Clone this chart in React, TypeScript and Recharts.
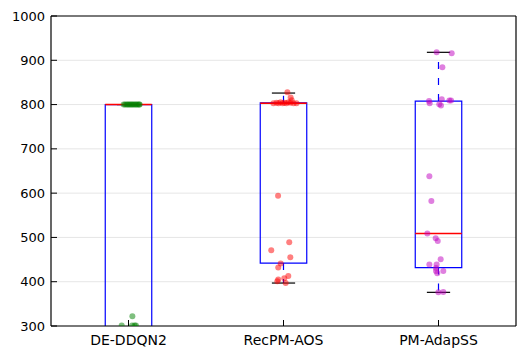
import {
  ComposedChart,
  Scatter,
  XAxis,
  YAxis,
  CartesianGrid,
  ReferenceArea,
  ReferenceLine,
} from "recharts";

const methods = ["DE-DDQN2", "RecPM-AOS", "PM-AdapSS"];
const xTicks = [1, 2, 3];
const yTicks = [300, 400, 500, 600, 700, 800, 900, 1000];

// box statistics per method (DE-DDQN2 lower part lies below the axis)
const whiskerLow = [250, 397, 376];
const quartile1 = [250, 442, 432];
const medians = [800, 803, 509];
const quartile3 = [800, 804, 808];
const whiskerHigh = [800, 826, 918];

// jittered runs: horizontal offset from the box centre, and value
const ddqnOffsets = [-0.031, -0.022, -0.012, -0.004, 0.004, 0.012, 0.02, 0.028, 0.036, 0.044, 0.052, 0.06, 0.068, 0.072, 0.025, -0.044, 0.023, 0.039, 0.048];
const ddqnValues = [800, 800, 800, 800, 800, 800, 800, 800, 800, 800, 800, 800, 800, 800, 322, 301, 301, 301, 301];

const recpmOffsets = [0.025, 0.046, 0.053, -0.065, -0.045, -0.032, -0.019, -0.006, 0.006, 0.019, 0.032, 0.045, 0.065, 0.084, -0.035, 0.037, -0.079, 0.044, -0.018, -0.034, 0.031, 0.005, -0.034, -0.04, 0.014];
const recpmValues = [828, 816, 810, 803, 804, 803, 805, 803, 804, 803, 805, 804, 803, 803, 594, 489, 471, 455, 441, 432, 413, 408, 405, 401, 397];

const adapssOffsets = [-0.012, 0.085, 0.025, -0.061, -0.057, 0.021, 0.005, 0.016, 0.07, 0.081, -0.059, -0.046, -0.072, -0.018, -0.005, 0.014, -0.059, -0.012, -0.016, -0.016, 0.031, -0.008, -0.001, 0.031];
const adapssValues = [918, 916, 884, 808, 803, 812, 801, 798, 809, 809, 638, 582, 509, 498, 492, 451, 439, 439, 431, 424, 424, 419, 376, 377];

const pointColors = ["#008000", "#ff0000", "#bf00bf"];

const toPoints = (pos: number, offsets: number[], values: number[]) =>
  values.map((v, i) => ({ x: pos + offsets[i], y: v }));

const groups = [
  toPoints(1, ddqnOffsets, ddqnValues),
  toPoints(2, recpmOffsets, recpmValues),
  toPoints(3, adapssOffsets, adapssValues),
];

const BOX_HALF = 0.15;
const CAP_HALF = 0.075;
const yFont = { fill: "#000", fontSize: 13, fontFamily: "DejaVu Sans" };
const xFont = { fill: "#000", fontSize: 14, fontFamily: "DejaVu Sans" };
const spine = { stroke: "#000", strokeWidth: 1.2 };

export default function App() {
  return (
    <div style={{ position: "absolute", left: 0, top: 0 }}>
      <ComposedChart width={526} height={356} margin={{ top: 0, right: 0, bottom: 0, left: 0 }}>
        <CartesianGrid xAxisId="b" yAxisId="l" vertical={false} stroke="#e6e6e6" />
        <XAxis
          xAxisId="b"
          type="number"
          dataKey="x"
          domain={[0.5, 3.5]}
          ticks={xTicks}
          tickFormatter={(v: number) => methods[v - 1] ?? ""}
          allowDataOverflow
          height={30}
          tickSize={-6}
          tickMargin={15}
          axisLine={spine}
          tickLine={{ stroke: "#000" }}
          tick={xFont}
        />
        <XAxis
          xAxisId="t"
          orientation="top"
          type="number"
          domain={[0.5, 3.5]}
          ticks={xTicks}
          allowDataOverflow
          height={16}
          tickSize={-6}
          axisLine={spine}
          tickLine={{ stroke: "#000" }}
          tick={false}
        />
        <YAxis
          yAxisId="l"
          type="number"
          dataKey="y"
          domain={[300, 1000]}
          ticks={yTicks}
          allowDataOverflow
          width={51}
          tickSize={-6}
          tickMargin={12}
          axisLine={spine}
          tickLine={{ stroke: "#000" }}
          tick={yFont}
        />
        <YAxis
          yAxisId="r"
          orientation="right"
          type="number"
          domain={[300, 1000]}
          ticks={yTicks}
          allowDataOverflow
          width={10}
          tickSize={-6}
          axisLine={spine}
          tickLine={{ stroke: "#000" }}
          tick={false}
        />

        {methods.map((m, i) => {
          const pos = i + 1;
          return [
            <ReferenceArea
              key={`box-${m}`}
              xAxisId="b"
              yAxisId="l"
              x1={pos - BOX_HALF}
              x2={pos + BOX_HALF}
              y1={quartile1[i]}
              y2={quartile3[i]}
              fill="none"
              fillOpacity={0}
              stroke="#0000ff"
              strokeWidth={1.2}
              strokeOpacity={1}
              ifOverflow="hidden"
            />,
            <ReferenceLine
              key={`wl-${m}`}
              xAxisId="b"
              yAxisId="l"
              segment={[{ x: pos, y: quartile1[i] }, { x: pos, y: whiskerLow[i] }]}
              stroke="#0000ff"
              strokeWidth={1.2}
              strokeDasharray="7 9"
              ifOverflow="hidden"
            />,
            <ReferenceLine
              key={`wh-${m}`}
              xAxisId="b"
              yAxisId="l"
              segment={[{ x: pos, y: quartile3[i] }, { x: pos, y: whiskerHigh[i] }]}
              stroke="#0000ff"
              strokeWidth={1.2}
              strokeDasharray="7 9"
              ifOverflow="hidden"
            />,
            <ReferenceLine
              key={`cl-${m}`}
              xAxisId="b"
              yAxisId="l"
              segment={[{ x: pos - CAP_HALF, y: whiskerLow[i] }, { x: pos + CAP_HALF, y: whiskerLow[i] }]}
              stroke="#000"
              strokeWidth={1.2}
              ifOverflow="hidden"
            />,
            <ReferenceLine
              key={`ch-${m}`}
              xAxisId="b"
              yAxisId="l"
              segment={[{ x: pos - CAP_HALF, y: whiskerHigh[i] }, { x: pos + CAP_HALF, y: whiskerHigh[i] }]}
              stroke="#000"
              strokeWidth={1.2}
              ifOverflow="hidden"
            />,
            <ReferenceLine
              key={`med-${m}`}
              xAxisId="b"
              yAxisId="l"
              segment={[{ x: pos - BOX_HALF, y: medians[i] }, { x: pos + BOX_HALF, y: medians[i] }]}
              stroke="#ff0000"
              strokeWidth={1.4}
              ifOverflow="hidden"
            />,
          ];
        })}

        {groups.map((pts, i) => (
          <Scatter
            key={methods[i]}
            xAxisId="b"
            yAxisId="l"
            data={pts}
            isAnimationActive={false}
            shape={(p: any) => (
              <circle cx={p.cx} cy={p.cy} r={3} fill={pointColors[i]} fillOpacity={0.5} />
            )}
          />
        ))}
      </ComposedChart>
    </div>
  );
}
